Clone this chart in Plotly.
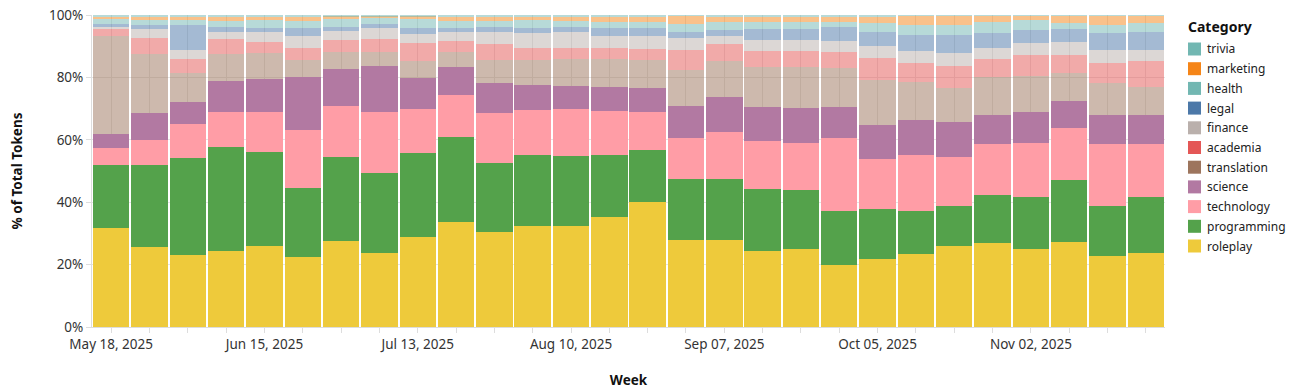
import pandas as pd
import plotly.graph_objects as go

weeks = pd.date_range("2025-05-18", periods=28, freq="7D")

roleplay    = [31.8,25.6,23.0,24.3,25.9,22.4,27.6,23.8,28.8,33.5,30.3,32.3,32.4,35.1,40.1,27.8,27.9,24.3,24.9,20.0,21.9,23.5,25.9,27.0,25.1,27.2,22.9,23.7]
programming = [20.0,26.2,31.3,33.5,30.2,22.2,27.0,25.7,27.0,27.3,22.4,22.8,22.4,20.0,16.5,19.6,19.4,19.9,19.0,17.3,16.0,13.8,13.0,15.4,16.5,19.9,16.0,17.9]
technology  = [5.7,8.0,10.8,11.2,12.8,18.5,16.2,19.4,14.1,13.5,16.0,14.6,15.0,14.2,12.3,13.1,15.1,15.5,15.2,23.2,15.9,17.7,15.7,16.1,17.3,16.6,19.7,17.0]
science     = [4.4,8.8,7.0,9.9,10.7,16.9,12.0,14.9,9.9,9.0,9.5,7.9,7.6,7.7,7.6,10.3,11.4,10.9,11.1,9.9,10.8,11.2,11.0,9.4,9.9,8.8,9.3,9.3]
translation = [31.4,18.8,9.2,8.5,8.1,5.6,5.4,4.4,5.5,4.9,7.4,8.0,8.4,8.8,9.1,11.7,11.5,12.8,13.2,12.5,14.6,12.4,10.9,12.1,11.6,9.0,10.2,8.9]
academia    = [2.3,5.3,4.5,4.9,3.6,3.9,3.8,4.0,5.6,3.6,5.0,3.7,3.5,3.5,3.5,6.3,5.3,5.2,5.2,5.3,6.9,5.9,7.2,5.8,6.8,5.7,6.4,8.5]
finance     = [0.4,2.9,3.0,2.4,3.4,3.8,2.9,3.5,2.9,2.9,4.1,4.8,5.1,4.0,4.2,3.8,2.8,3.4,3.4,3.5,4.1,4.1,4.0,3.7,3.7,4.2,4.3,3.5]
legal       = [1.1,1.2,8.0,1.4,1.0,2.5,1.2,1.3,1.9,1.0,1.6,1.6,1.7,2.4,2.4,2.1,1.8,3.5,3.5,4.3,4.2,5.0,5.9,4.6,4.3,4.0,5.3,5.8]
health      = [1.5,1.6,1.5,2.1,2.7,2.4,2.5,1.9,2.9,2.5,1.9,2.7,2.0,2.2,2.2,2.5,2.7,2.4,2.4,1.9,2.9,3.2,3.2,3.8,3.2,1.9,2.7,2.7]
marketing   = [0.7,1.1,1.1,1.1,1.1,1.3,1.0,0.7,1.0,1.1,1.3,1.1,1.2,1.4,1.6,2.5,1.6,1.6,1.6,1.6,2.2,2.9,2.9,1.8,1.3,2.4,2.9,2.4]
trivia      = [0.7,0.5,0.6,0.7,0.5,0.5,0.4,0.4,0.4,0.7,0.5,0.5,0.7,0.7,0.5,0.3,0.5,0.5,0.5,0.5,0.5,0.3,0.3,0.3,0.3,0.3,0.3,0.3]

categories = ["roleplay", "programming", "technology", "science", "translation",
              "academia", "finance", "legal", "health", "marketing", "trivia"]
series = [roleplay, programming, technology, science, translation,
          academia, finance, legal, health, marketing, trivia]
colors = ["#EECA3B", "#54A24B", "#FF9DA6", "#B279A2", "#9D755D",
          "#E45756", "#BAB0AC", "#4C78A8", "#72B7B2", "#F58518", "#72B7B2"]
highlighted = {"roleplay", "programming", "technology", "science"}

y_ticks = [0, 20, 40, 60, 80, 100]
y_labels = ["0%", "20%", "40%", "60%", "80%", "100%"]
label_every = 4
tick_text = [d.strftime("%b %d, %Y") if i % label_every == 0 else "" for i, d in enumerate(weeks)]

FONT = "Noto Sans"
fig = go.Figure()
for cat, vals, col in zip(categories, series, colors):
    fig.add_trace(go.Bar(
        x=weeks, y=vals, name=cat, marker=dict(color=col, line=dict(width=0)),
        opacity=1.0 if cat in highlighted else 0.5,
        showlegend=False,
    ))

# page has an 8px body margin: figure starts at (8, 8)
W, H = 1286, 381
L, T = 84, 7
PW, PH = 1073, 312
PX0, PY0 = 92, 327  # page pixel of plot origin


def px(x):
    return (x - PX0) / PW


def py(y):
    return (PY0 - y) / PH


# legend (drawn by hand so it sits exactly where the reference has it)
shapes, annotations = [], []
annotations.append(dict(
    text="<b>Category</b>", xref="paper", yref="paper",
    x=px(1186), xanchor="left", y=py(27), yanchor="middle",
    showarrow=False, font=dict(size=14, color="#111", family=FONT),
))
LEG_Y0, LEG_DY, SW = 49, 19.7, 13
for i, (cat, col) in enumerate(zip(categories[::-1], colors[::-1])):
    yc = LEG_Y0 + i * LEG_DY
    shapes.append(dict(
        type="rect", xref="paper", yref="paper",
        x0=px(1188), x1=px(1188 + SW), y0=py(yc + SW / 2), y1=py(yc - SW / 2),
        fillcolor=col, line=dict(width=0),
    ))
    annotations.append(dict(
        text=cat, xref="paper", yref="paper",
        x=px(1205), xanchor="left", y=py(yc), yanchor="middle",
        showarrow=False, font=dict(size=12, color="#222", family=FONT),
    ))

half = pd.Timedelta(days=3.5)
fig.update_layout(
    width=W, height=H,
    barmode="stack", bargap=0.05,
    paper_bgcolor="white", plot_bgcolor="white",
    margin=dict(l=L, r=W - L - PW, t=T, b=H - T - PH, autoexpand=False),
    font=dict(family=FONT, size=13, color="#333"),
    showlegend=False,
    shapes=shapes,
    annotations=annotations,
    xaxis=dict(
        range=[weeks[0] - half, weeks[-1] + half],
        tickmode="array", tickvals=list(weeks), ticktext=tick_text,
        ticks="outside", ticklen=5, tickcolor="#ddd",
        showgrid=True, gridcolor="#e4e4e4", gridwidth=1,
        showline=True, linecolor="#ddd", ticklabeloverflow="allow",
        tickfont=dict(size=13.5, color="#333"),
        title=dict(text="<b>Week</b>", font=dict(size=13.5, color="#111"), standoff=24),
    ),
    yaxis=dict(
        range=[0, 100], tickvals=y_ticks, ticktext=y_labels,
        showgrid=True, gridcolor="#e4e4e4", zeroline=False,
        showline=True, linecolor="#ddd", ticklabeloverflow="allow",
        ticks="outside", ticklen=5, tickcolor="#ddd",
        tickfont=dict(size=13.5, color="#333"),
        title=dict(text="<b>% of Total Tokens</b>", font=dict(size=13.5, color="#111"), standoff=24),
    ),
)
fig.write_html("out.html")
